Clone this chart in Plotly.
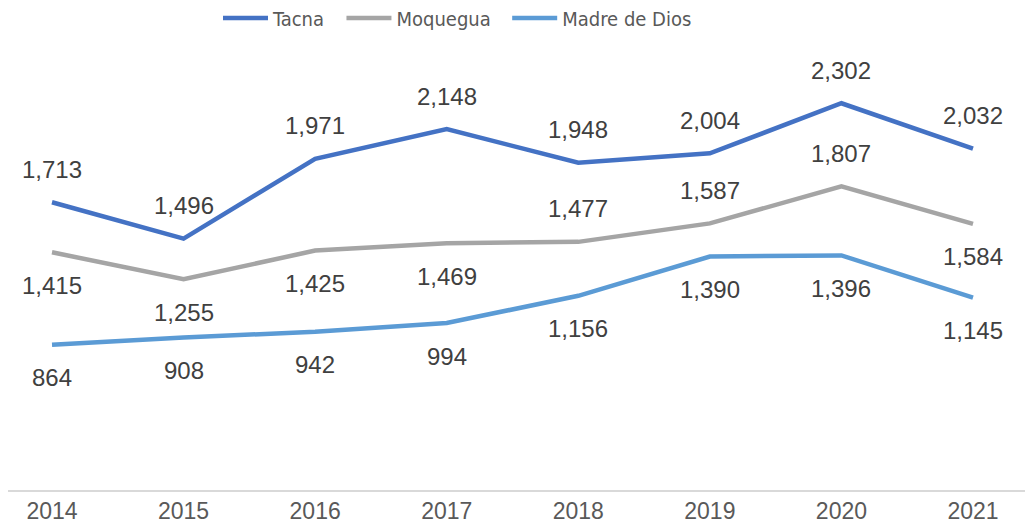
import plotly.graph_objects as go

years = [2014, 2015, 2016, 2017, 2018, 2019, 2020, 2021]
tacna = [1713, 1496, 1971, 2148, 1948, 2004, 2302, 2032]
moquegua = [1415, 1255, 1425, 1469, 1477, 1587, 1807, 1584]
madre = [864, 908, 942, 994, 1156, 1390, 1396, 1145]

# label placement: +1 above, -1 below
tacna_pos = [1, 1, 1, 1, 1, 1, 1, 1]
moquegua_pos = [-1, -1, -1, -1, 1, 1, 1, -1]
madre_pos = [-1, -1, -1, -1, -1, -1, -1, -1]

series = [
    ("Tacna", tacna, "#4472C4", tacna_pos),
    ("Moquegua", moquegua, "#A5A5A5", moquegua_pos),
    ("Madre de Dios", madre, "#5B9BD5", madre_pos),
]

FONT = "Liberation Sans, Arial, sans-serif"
NARROW = "DejaVu Sans Condensed, Liberation Sans, sans-serif"
PAD = "\u00a0\u00a0"

fig = go.Figure()
annotations = []
for name, vals, color, pos in series:
    fig.add_trace(go.Scatter(
        x=years, y=vals, name=name + PAD, mode="lines",
        line=dict(color=color, width=4.5),
    ))
    for x, v, p in zip(years, vals, pos):
        annotations.append(dict(
            x=x, y=v, xref="x", yref="y", text=f"{v:,}", showarrow=False,
            yshift=33 * p, yanchor="middle",
            font=dict(family=FONT, size=24, color="#404040"),
        ))

W, H = 1025, 521
T, B = 62, 39
fig.update_layout(
    width=W, height=H,
    margin=dict(l=0, r=0, t=T, b=B, autoexpand=False),
    paper_bgcolor="white", plot_bgcolor="white",
    showlegend=True,
    legend=dict(
        orientation="h", x=210 / W, xanchor="left",
        y=1 + (T - 10) / (H - T - B), yanchor="middle",
        font=dict(family=NARROW, size=20, color="#595959"),
        bgcolor="rgba(0,0,0,0)", itemwidth=45,
    ),
    xaxis=dict(
        range=[2013.6656, 2021.456], tickvals=years, ticktext=[str(y) for y in years],
        showgrid=False, zeroline=False, showline=True, linecolor="#D9D9D9", linewidth=1.5,
        ticks="", tickfont=dict(family=FONT, size=23, color="#595959"), automargin=False,
    ),
    yaxis=dict(
        range=[0, 2500], visible=False, showgrid=False, zeroline=False,
    ),
    annotations=annotations,
)

fig.write_html("out.html")
